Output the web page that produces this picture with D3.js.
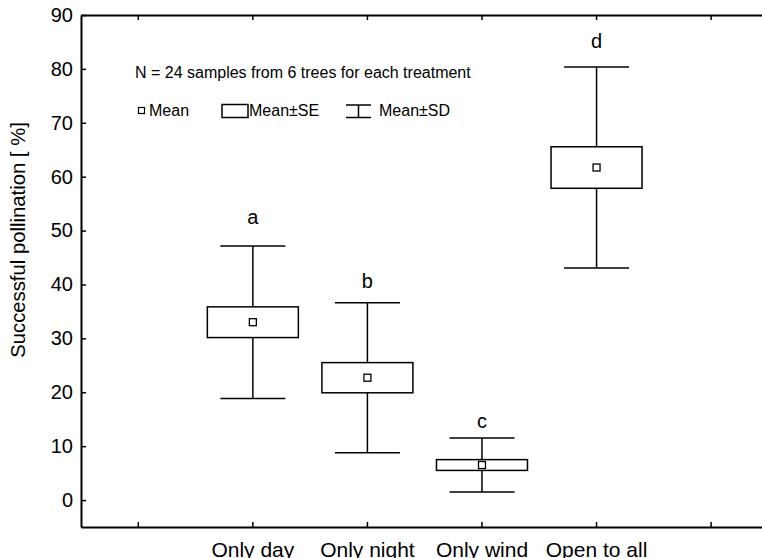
<!DOCTYPE html>
<html>
<head>
<meta charset="utf-8">
<script src="https://cdn.jsdelivr.net/npm/d3@7/dist/d3.min.js"></script>
<style>
  html, body { margin: 0; padding: 0; background: #fff; }
  svg { display: block; font-family: "Liberation Sans", Arial, Helvetica, sans-serif; }
</style>
</head>
<body>
<svg id="chart" width="762" height="558"></svg>
<script>
// Treatments (empty slots pad the axis on both sides)
const categories = ["", "Only day", "Only night", "Only wind", "Open to all", ""];
const treatments = ["Only day", "Only night", "Only wind", "Open to all"];
// Successful pollination [%] per treatment
const means = [33.0, 22.7, 6.5, 61.7];
const se = [2.85, 2.8, 1.0, 3.85];
const sd = [14.15, 13.9, 5.0, 18.65];
// Significance group letters and the value level they sit at
const groupLetters = ["a", "b", "c", "d"];
const letterLevels = [51.2, 39.4, 13.3, 83.9];
const yTicks = [0, 10, 20, 30, 40, 50, 60, 70, 80, 90];
const noteText = "N = 24 samples from 6 trees for each treatment";

const svg = d3.select("#chart");
const plotLeft = 81, plotTop = 15, plotRight = 768.4, plotBottom = 527;

const x = d3.scaleBand().domain(d3.range(categories.length)).range([plotLeft, plotRight]).paddingInner(0).paddingOuter(0);
const y = d3.scaleLinear().domain([-5, 90]).range([plotBottom, plotTop]);
const cx = i => x(i) + x.bandwidth() / 2;

// Frame: axes on all four sides, ticks pointing inwards
const axisGroup = svg.append("g");
const yAxis = d3.axisLeft(y).tickValues(yTicks).tickSizeInner(-5).tickSizeOuter(0).tickPadding(8);
const gy = axisGroup.append("g").attr("transform", `translate(${plotLeft},0)`).call(yAxis);
const xAxis = d3.axisBottom(x).tickFormat(i => categories[i]).tickSizeInner(-5).tickSizeOuter(0).tickPadding(15);
const gx = axisGroup.append("g").attr("transform", `translate(0,${plotBottom})`).call(xAxis);
axisGroup.append("g").attr("transform", `translate(0,${plotTop})`)
  .call(d3.axisTop(x).tickFormat("").tickSizeInner(-5).tickSizeOuter(0));
axisGroup.append("g").attr("transform", `translate(${plotRight},0)`)
  .call(d3.axisRight(y).tickValues(yTicks).tickFormat("").tickSizeInner(-5).tickSizeOuter(0));

axisGroup.selectAll(".domain").attr("stroke", "#000").attr("stroke-width", 2);
axisGroup.selectAll(".tick line").attr("stroke", "#000").attr("stroke-width", 1.5);
axisGroup.selectAll(".tick text").attr("fill", "#000").attr("font-family", "Liberation Sans, Arial, sans-serif");
gy.selectAll(".tick text").attr("font-size", 20);
gx.selectAll(".tick text").attr("font-size", 21);

// Y axis title
svg.append("text")
  .attr("transform", "translate(25,240) rotate(-90)")
  .attr("text-anchor", "middle")
  .attr("font-size", 20.3)
  .attr("fill", "#000")
  .text("Successful pollination [ %]");

// Boxes: SD whiskers, SE box, mean marker
const capW = 65, boxW = 91, markerS = 7;
const plot = svg.append("g").attr("stroke", "#000").attr("stroke-width", 1.5).attr("fill", "none");
const items = treatments.map((t, k) => ({
  i: categories.indexOf(t), mean: means[k], se: se[k], sd: sd[k], letter: groupLetters[k], lvl: letterLevels[k]
}));

const g = plot.selectAll("g.item").data(items).join("g").attr("class", "item");
g.append("line")
  .attr("x1", d => cx(d.i)).attr("x2", d => cx(d.i))
  .attr("y1", d => y(d.mean + d.sd)).attr("y2", d => y(d.mean - d.sd));
g.append("line")
  .attr("x1", d => cx(d.i) - capW / 2).attr("x2", d => cx(d.i) + capW / 2)
  .attr("y1", d => y(d.mean + d.sd)).attr("y2", d => y(d.mean + d.sd));
g.append("line")
  .attr("x1", d => cx(d.i) - capW / 2).attr("x2", d => cx(d.i) + capW / 2)
  .attr("y1", d => y(d.mean - d.sd)).attr("y2", d => y(d.mean - d.sd));
g.append("rect")
  .attr("x", d => cx(d.i) - boxW / 2).attr("width", boxW)
  .attr("y", d => y(d.mean + d.se)).attr("height", d => y(d.mean - d.se) - y(d.mean + d.se))
  .attr("fill", "#fff");
g.append("rect")
  .attr("x", d => cx(d.i) - markerS / 2).attr("y", d => y(d.mean) - markerS / 2)
  .attr("width", markerS).attr("height", markerS)
  .attr("fill", "#fff").attr("stroke-width", 1.3);

svg.append("g").selectAll("text").data(items).join("text")
  .attr("x", d => cx(d.i)).attr("y", d => y(d.lvl))
  .attr("text-anchor", "middle").attr("font-size", 20).attr("fill", "#000")
  .text(d => d.letter);

// Legend
const legend = svg.append("g").attr("fill", "#000");
legend.append("text").attr("x", 135).attr("y", 78).attr("font-size", 16).text(noteText);
legend.append("rect").attr("x", 138.5).attr("y", 107.5).attr("width", 6).attr("height", 6)
  .attr("fill", "#fff").attr("stroke", "#000").attr("stroke-width", 1.2);
legend.append("text").attr("x", 149).attr("y", 116).attr("font-size", 16).text("Mean");
legend.append("rect").attr("x", 222).attr("y", 104.5).attr("width", 26).attr("height", 13)
  .attr("fill", "#fff").attr("stroke", "#000").attr("stroke-width", 1.5);
legend.append("text").attr("x", 249).attr("y", 116).attr("font-size", 16).text("Mean±SE");
const sdg = legend.append("g").attr("stroke", "#000").attr("stroke-width", 1.5);
sdg.append("line").attr("x1", 346).attr("x2", 371).attr("y1", 105).attr("y2", 105);
sdg.append("line").attr("x1", 346).attr("x2", 371).attr("y1", 117.5).attr("y2", 117.5);
sdg.append("line").attr("x1", 358.5).attr("x2", 358.5).attr("y1", 105).attr("y2", 117.5);
legend.append("text").attr("x", 379).attr("y", 116).attr("font-size", 16).text("Mean±SD");
</script>
</body>
</html>
